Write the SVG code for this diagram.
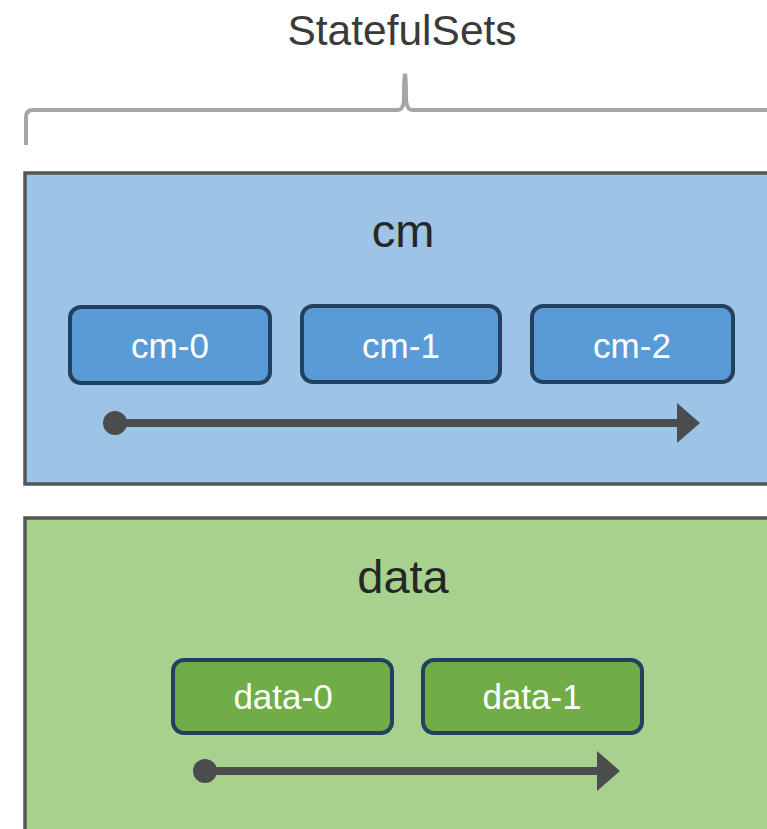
<svg xmlns="http://www.w3.org/2000/svg" width="767" height="829" viewBox="0 0 767 829">
<style>
.t{font-family:"Liberation Sans",Arial,sans-serif;text-anchor:middle}
.title{font-size:47px;fill:#262626}
.grp{stroke:#555;stroke-width:3.5}
.pod{stroke:#22405f;stroke-width:4}
.pt{font-size:35px;fill:#fff}
.ar{stroke:#4a4c4e;stroke-width:8;fill:none}
</style>
<rect width="767" height="829" fill="#fff"/>
<g id="statefulsets">
<text class="t" x="402" y="45" style="font-size:42.5px;fill:#3a3a3a">StatefulSets</text>
<path d="M26 145 V117 Q26 110 33 110 H398 Q403 110 404 100 Q404 78 405 74 Q406 78 406 100 Q407 110 412 110 H767" fill="none" stroke="#a6a6a6" stroke-width="4"/>
</g>
<g id="cm">
<rect class="grp" x="25" y="173" width="760" height="311" fill="#9dc3e6"/>
<text class="t title" x="403" y="247">cm</text>
</g>
<g id="cm-0"><rect class="pod" x="70" y="307" width="200" height="76" rx="11" fill="#5b9bd5"/><text class="t pt" x="170" y="358">cm-0</text></g>
<g id="cm-1"><rect class="pod" x="302" y="306" width="198" height="76" rx="11" fill="#5b9bd5"/><text class="t pt" x="401" y="358">cm-1</text></g>
<g id="cm-2"><rect class="pod" x="532" y="306" width="201" height="76" rx="11" fill="#5b9bd5"/><text class="t pt" x="632" y="358">cm-2</text></g>
<g id="data">
<rect class="grp" x="25" y="518" width="760" height="330" fill="#a9d18e"/>
<text class="t title" x="403" y="593">data</text>
</g>
<g id="data-0"><rect class="pod" x="173" y="660" width="219" height="73" rx="11" fill="#70ad47"/><text class="t pt" x="283" y="709">data-0</text></g>
<g id="data-1"><rect class="pod" x="423" y="660" width="219" height="73" rx="11" fill="#70ad47"/><text class="t pt" x="532" y="709">data-1</text></g>
<g id="connectors" fill="#4a4c4e">
<circle cx="115" cy="423" r="12"/>
<line class="ar" x1="115" y1="423" x2="680" y2="423"/>
<path d="M677 403 L700 423 L677 443 Z"/>
<circle cx="205" cy="771" r="12"/>
<line class="ar" x1="205" y1="771" x2="600" y2="771"/>
<path d="M597 751 L620 771 L597 791 Z"/>
</g>
</svg>
